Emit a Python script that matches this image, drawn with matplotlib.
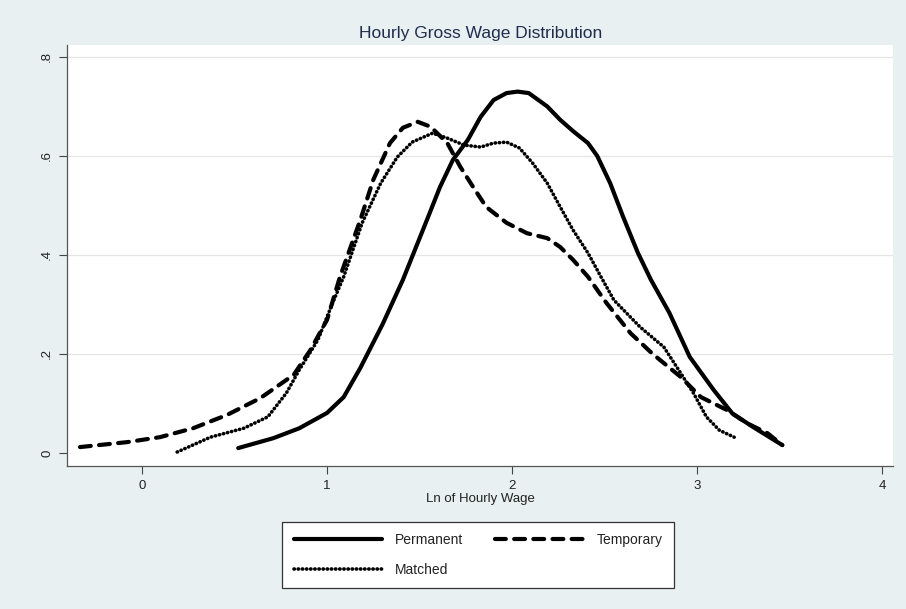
import matplotlib
matplotlib.use("Agg")
import matplotlib.pyplot as plt
from matplotlib.lines import Line2D

# Values
permanent_x = [0.52, 0.71, 0.85, 1.00, 1.09, 1.18, 1.30, 1.41, 1.54, 1.61, 1.68, 1.76,
               1.83, 1.90, 1.97, 2.03, 2.09, 2.19, 2.26, 2.33, 2.41, 2.46, 2.53, 2.60,
               2.68, 2.75, 2.85, 2.96, 3.09, 3.19, 3.30, 3.46]
permanent_y = [0.010, 0.030, 0.050, 0.081, 0.113, 0.172, 0.260, 0.350, 0.471, 0.537,
               0.592, 0.632, 0.679, 0.713, 0.727, 0.730, 0.727, 0.700, 0.673, 0.650,
               0.626, 0.600, 0.545, 0.477, 0.404, 0.350, 0.283, 0.194, 0.127, 0.080,
               0.053, 0.016]

temporary_x = [-0.335, -0.08, 0.097, 0.276, 0.46, 0.64, 0.82, 0.91, 1.00, 1.07, 1.18,
               1.25, 1.34, 1.41, 1.49, 1.56, 1.65, 1.72, 1.79, 1.86, 1.97, 2.08, 2.19,
               2.26, 2.33, 2.41, 2.51, 2.64, 2.76, 2.91, 3.02, 3.16, 3.27, 3.38, 3.46]
temporary_y = [0.012, 0.022, 0.032, 0.050, 0.077, 0.111, 0.158, 0.208, 0.269, 0.356,
               0.471, 0.552, 0.626, 0.657, 0.669, 0.659, 0.626, 0.578, 0.537, 0.497,
               0.465, 0.444, 0.434, 0.416, 0.390, 0.356, 0.303, 0.242, 0.200, 0.154,
               0.113, 0.087, 0.060, 0.040, 0.016]

matched_x = [0.19, 0.37, 0.55, 0.68, 0.78, 0.85, 0.95, 1.03, 1.09, 1.19, 1.29, 1.38,
             1.46, 1.57, 1.65, 1.74, 1.83, 1.90, 1.97, 2.04, 2.11, 2.19, 2.26, 2.33,
             2.41, 2.48, 2.55, 2.69, 2.82, 2.91, 2.98, 3.05, 3.12, 3.20]
matched_y = [0.002, 0.032, 0.050, 0.073, 0.121, 0.168, 0.228, 0.303, 0.356, 0.465,
             0.545, 0.598, 0.628, 0.646, 0.636, 0.622, 0.618, 0.626, 0.628, 0.616,
             0.586, 0.545, 0.497, 0.450, 0.404, 0.356, 0.309, 0.255, 0.214, 0.162,
             0.121, 0.073, 0.046, 0.032]

x_ticks = [0, 1, 2, 3, 4]
y_ticks = [0, 0.2, 0.4, 0.6, 0.8]
y_tick_labels = ["0", ".2", ".4", ".6", ".8"]

BG = "#e9f0f2"
TXT = "#222222"

plt.rcParams['font.family'] = ['Liberation Sans', 'DejaVu Sans']

fig = plt.figure(figsize=(9.06, 6.09), dpi=100, facecolor=BG)
ax = fig.add_axes([0.074, 0.235, 0.912, 0.691])
ax.set_facecolor("white")

solid = dict(color="black", lw=3.0, solid_capstyle="round", solid_joinstyle="round")
dashed = dict(color="black", lw=3.0, linestyle=(0, (2.6, 2.0)), dash_capstyle="round")
dotted = dict(color="black", lw=2.6, linestyle=(0, (0.1, 1.05)), dash_capstyle="round")

ax.plot(permanent_x, permanent_y, **solid)
ax.plot(temporary_x, temporary_y, **dashed)
ax.plot(matched_x, matched_y, **dotted)

ax.set_xlim(-0.405, 4.06)
ax.set_ylim(-0.026, 0.824)
ax.set_xticks(x_ticks)
ax.set_yticks(y_ticks)
ax.set_yticklabels(y_tick_labels, rotation=90, va="center")
ax.tick_params(direction="out", length=6, width=0.8, colors="#444444",
               labelcolor=TXT, labelsize=9.5, pad=4)

# light horizontal gridlines, Stata style
for yv in y_ticks[1:]:
    ax.axhline(yv, color="#e6e6e6", lw=0.9, zorder=0)

for side in ["top", "right"]:
    ax.spines[side].set_visible(False)
for side in ["left", "bottom"]:
    ax.spines[side].set_color("#555555")
    ax.spines[side].set_linewidth(0.9)

ax.set_title("Hourly Gross Wage Distribution", fontsize=12.5, color="#1f2d4d", pad=5)
ax.set_xlabel("Ln of Hourly Wage", fontsize=9.5, color=TXT, labelpad=1)

# legend box below the plot
handles = [Line2D([], [], **solid), Line2D([], [], **dashed), Line2D([], [], **dotted)]
labels = ["Permanent", "Temporary", "Matched"]
order = [0, 2, 1]
leg = fig.legend([handles[i] for i in order], [labels[i] for i in order],
                 loc="center", bbox_to_anchor=(478 / 906, 1 - 555 / 609), ncol=2,
                 fontsize=10, handlelength=6.4, columnspacing=2.3, handletextpad=0.9,
                 labelspacing=1.15, borderpad=0.8, borderaxespad=0, fancybox=False,
                 framealpha=1, edgecolor="#333333", facecolor="white")
leg.get_frame().set_linewidth(0.9)
for t in leg.get_texts():
    t.set_color(TXT)

plt.savefig("out.png", dpi=100, facecolor=BG)
